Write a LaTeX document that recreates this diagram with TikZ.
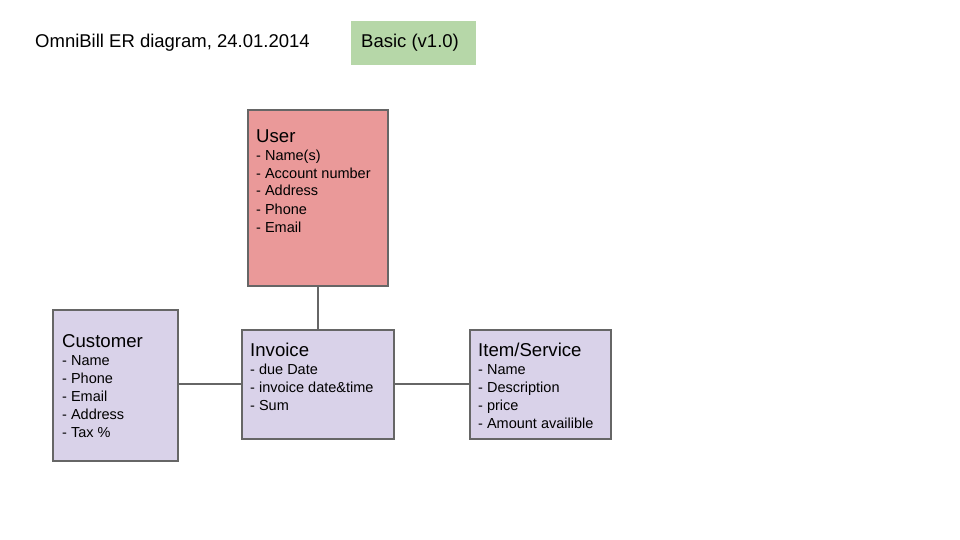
\documentclass[tikz,border=0pt]{standalone}
\usepackage{fontspec}
\setmainfont{Liberation Sans}
\definecolor{linegray}{HTML}{666666}
\definecolor{userpink}{HTML}{EA9999}
\definecolor{entlav}{HTML}{D9D2E9}
\definecolor{basicgreen}{HTML}{B6D7A8}
\newcommand{\ttl}[1]{{\fontsize{18.6}{18}\selectfont #1}}
\begin{document}
\begin{tikzpicture}[x=1pt,y=-1pt,
  box/.style={draw=linegray, line width=1.8pt, inner sep=0pt, anchor=north west},
  lbl/.style={inner sep=0pt, anchor=base west, align=left, font=\fontsize{14.5}{18}\selectfont},
  conn/.style={draw=linegray, line width=2pt}]
\useasboundingbox (0,0) rectangle (960,540);
% title and version tag
\node[inner sep=0pt, anchor=base west, font=\fontsize{18.5}{22}\selectfont] (title) at (35,48) {OmniBill ER diagram, 24.01.2014};
\node[fill=basicgreen, inner sep=0pt, anchor=north west, minimum width=125pt, minimum height=44pt] (basic) at (351,21) {};
\node[inner sep=0pt, anchor=base west, font=\fontsize{18.5}{22}\selectfont] (basicT) at (361,48) {Basic (v1.0)};
% entity boxes
\node[box, fill=userpink, minimum width=140pt, minimum height=176pt] (user) at (247,109) {};
\node[box, fill=entlav, minimum width=125pt, minimum height=151pt] (customer) at (52,309) {};
\node[box, fill=entlav, minimum width=152pt, minimum height=109pt] (invoice) at (241,329) {};
\node[box, fill=entlav, minimum width=141pt, minimum height=109pt] (item) at (469,329) {};
% entity texts (anchored at the baseline of their last line)
\node[lbl] (userT) at (256,232) {\ttl{User}\\- Name(s)\\- Account number\\- Address\\- Phone\\- Email};
\node[lbl] (customerT) at (62,437) {\ttl{Customer}\\- Name\\- Phone\\- Email\\- Address\\- Tax \%};
\node[lbl] (invoiceT) at (250,410) {\ttl{Invoice}\\- due Date\\- invoice date\&time\\- Sum};
\node[lbl] (itemT) at (478,428) {\ttl{Item/Service}\\- Name\\- Description\\- price\\- Amount availible};
% connectors
\draw[conn] (user.south) -- (invoice.north);
\draw[conn] (invoice.west) -- (invoice.west -| customer.east);
\draw[conn] (invoice.east) -- (item.west);
\end{tikzpicture}
\end{document}
